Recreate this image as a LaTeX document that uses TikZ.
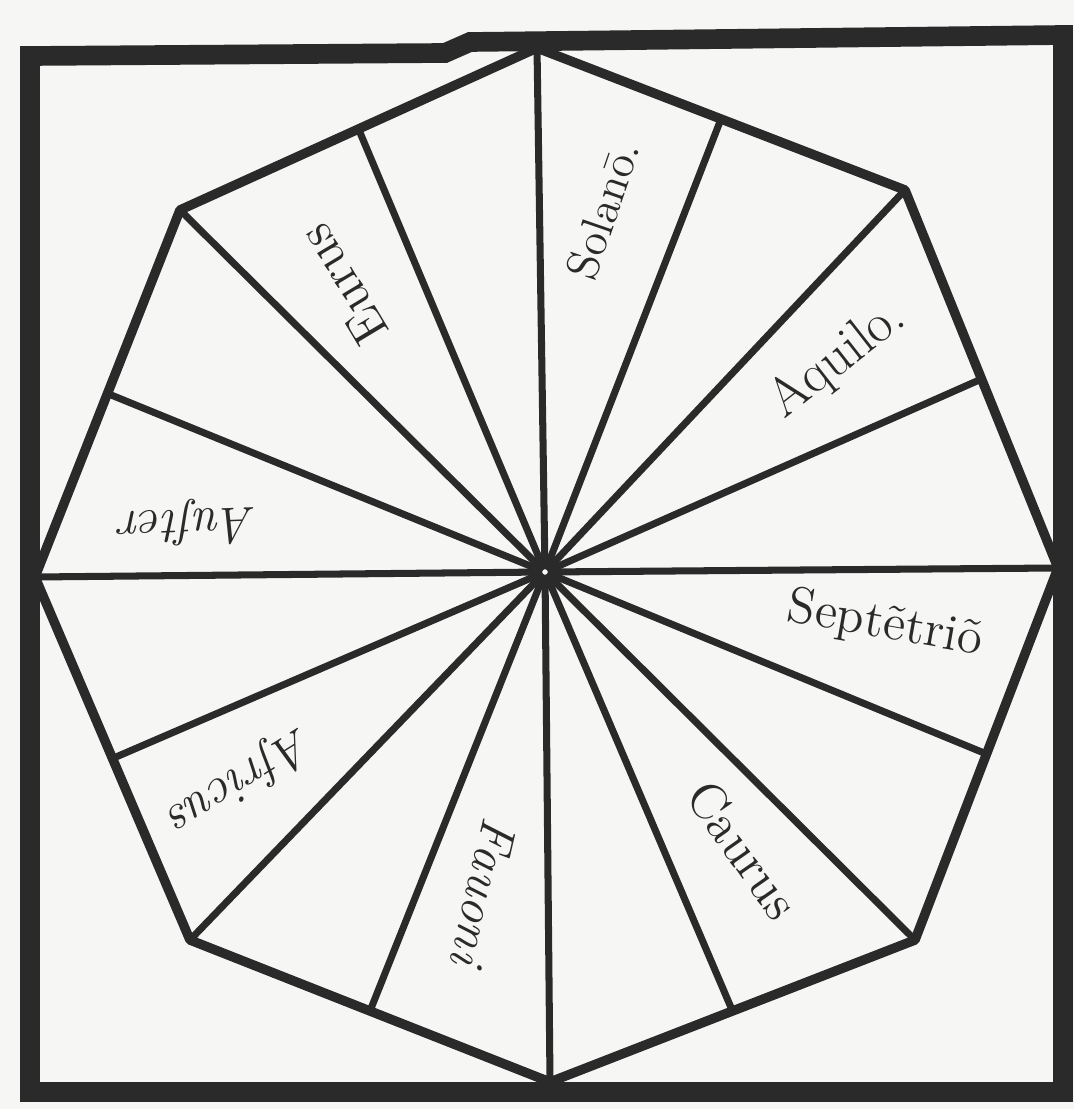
\documentclass[tikz,border=0pt]{standalone}
\usetikzlibrary{calc}
\definecolor{ink}{RGB}{42,42,42}
\definecolor{paper}{RGB}{246,246,244}

\begin{document}
\begin{tikzpicture}[
  frame/.style={draw=ink, line width=5.6pt, line join=miter},
  rim/.style={draw=ink, line width=2.7pt, line join=round},
  ray/.style={draw=ink, line width=2pt, shorten <=0.8pt},
  wind/.style={text=ink, inner sep=0pt, font=\fontsize{14.5}{16}\selectfont},
  windit/.style={wind, font=\fontsize{14.5}{16}\selectfont\itshape}
]

% page
\fill[paper] (0,0) rectangle (10.74,-11.09);
\useasboundingbox (0,0) rectangle (10.74,-11.09);

% centre and corners of the octagon
\coordinate (c) at (5.45,-5.72);
\coordinate (n) at (10.58,-5.68);
\coordinate (ne) at (9.05,-1.90);
\coordinate (e) at (5.37,-0.48);
\coordinate (se) at (1.80,-2.10);
\coordinate (s) at (0.35,-5.77);
\coordinate (sw) at (1.90,-9.40);
\coordinate (w) at (5.50,-10.82);
\coordinate (nw) at (9.15,-9.40);

% sixteen rays
\foreach \a/\b in {n/ne, ne/e, e/se, se/s, s/sw, sw/w, w/nw, nw/n} {
  \draw[ray] (c) -- (\a);
  \draw[ray] (c) -- ($(\a)!0.5!(\b)$);
}

% octagon and frame
\draw[rim] (n) -- (ne) -- (e) -- (se) -- (s) -- (sw) -- (w) -- (nw) -- cycle;
\draw[frame] (0.30,-0.56) -- (4.45,-0.53) -- (4.70,-0.42) -- (10.63,-0.35) -- (10.63,-10.92) -- (0.30,-10.92) -- cycle;

% winds
\node[wind, rotate=121] (eurus) at (3.43,-2.85) {Eurus};
\node[wind, rotate=71, font=\fontsize{13}{15}\selectfont] (solanus) at (6.03,-2.10) {Solan\=o.};
\node[wind, rotate=38, font=\fontsize{15.5}{17}\selectfont] (aquilo) at (8.38,-3.60) {Aquilo.};
\node[wind, rotate=-10] (septentrio) at (8.85,-6.25) {Sept\~etri\~o};
\node[wind, rotate=-55] (caurus) at (7.43,-8.50) {Caurus};
\node[windit, rotate=-103, font=\fontsize{14.5}{16}\selectfont\itshape] (fauonius) at (4.84,-8.92) {Fauoni};
\node[windit, rotate=212] (africus) at (2.40,-7.80) {Africus};
\node[windit, rotate=182] (auster) at (1.88,-5.23) {Auſter};

\end{tikzpicture}
\end{document}
